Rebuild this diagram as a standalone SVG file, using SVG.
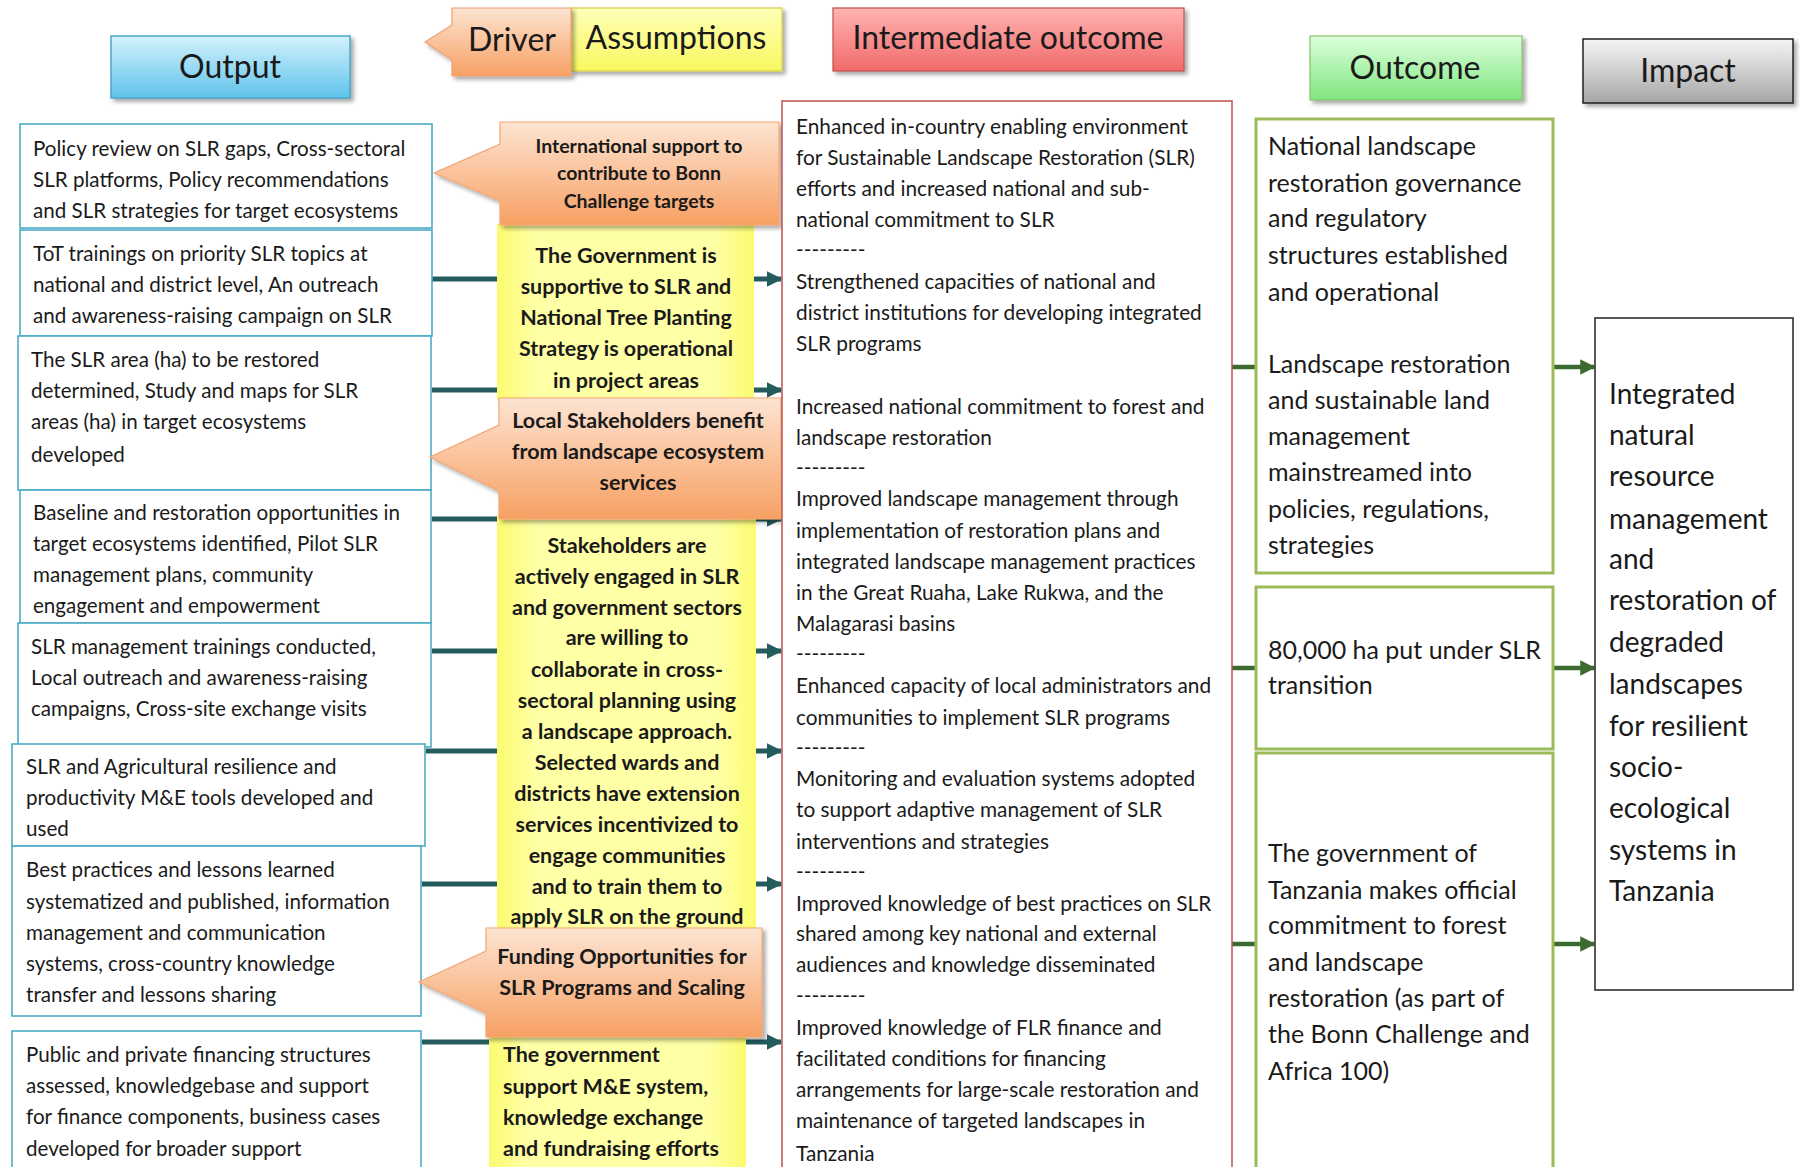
<svg xmlns="http://www.w3.org/2000/svg" width="1800" height="1167" viewBox="0 0 1800 1167">
<style>
.t{font-family:Lato,"Open Sans","Liberation Sans",sans-serif;fill:#1a1a1a}
.out{font-size:20.6px}
.io{font-size:20.8px}
.oc{font-size:25px}
.im{font-size:28px}
.hd{font-size:32px}
.b{font-weight:bold;text-anchor:middle;font-size:21.5px}
.bl{font-weight:bold;font-size:21.5px}
.obox{fill:#fff;stroke:#4bacc6;stroke-width:1.6}
.gbox{fill:#fff;stroke:#9bbb59;stroke-width:3}
.tl{stroke:#245c5e;stroke-width:5;fill:none}
.gl{stroke:#3c6b31;stroke-width:4.5;fill:none}
</style>
<defs>
<linearGradient id="gBlue" x1="0" y1="0" x2="0" y2="1"><stop offset="0" stop-color="#d4f2fc"/><stop offset="1" stop-color="#5fc3ec"/></linearGradient>
<linearGradient id="gOr" x1="0" y1="0" x2="0" y2="1"><stop offset="0" stop-color="#fde4d2"/><stop offset="1" stop-color="#f7a063"/></linearGradient>
<linearGradient id="gYel" x1="0" y1="0" x2="0" y2="1"><stop offset="0" stop-color="#ffffb8"/><stop offset="1" stop-color="#f8f860"/></linearGradient>
<linearGradient id="gRed" x1="0" y1="0" x2="0" y2="1"><stop offset="0" stop-color="#ffb3b3"/><stop offset="1" stop-color="#f26a6a"/></linearGradient>
<linearGradient id="gGrn" x1="0" y1="0" x2="0" y2="1"><stop offset="0" stop-color="#dcffdc"/><stop offset="1" stop-color="#80e680"/></linearGradient>
<linearGradient id="gGry" x1="0" y1="0" x2="0" y2="1"><stop offset="0" stop-color="#f5f5f5"/><stop offset="1" stop-color="#a6a6a6"/></linearGradient>
<linearGradient id="gYcol" x1="0" y1="0" x2="1" y2="0"><stop offset="0" stop-color="#fbfb70"/><stop offset="0.15" stop-color="#ffffa6"/><stop offset="0.85" stop-color="#ffffa6"/><stop offset="1" stop-color="#fbfb70"/></linearGradient>
<filter id="sh" x="-10%" y="-10%" width="130%" height="140%"><feDropShadow dx="3" dy="3" stdDeviation="2" flood-color="#000" flood-opacity="0.35"/></filter>
<marker id="aT" viewBox="0 0 10 10" refX="9" refY="5" markerWidth="3.2" markerHeight="3.2" orient="auto" markerUnits="strokeWidth"><path d="M0,0 L10,5 L0,10 z" fill="#245c5e"/></marker>
<marker id="aG" viewBox="0 0 10 10" refX="9" refY="5" markerWidth="3.4" markerHeight="3.4" orient="auto" markerUnits="strokeWidth"><path d="M0,0 L10,5 L0,10 z" fill="#3c6b31"/></marker>
</defs>
<rect width="1800" height="1167" fill="#fff"/>

<!-- headers -->
<g id="hdr-output"><rect x="111" y="36" width="239" height="62" fill="url(#gBlue)" stroke="#4aa6c8" stroke-width="1.5" filter="url(#sh)"/><text class="t hd" x="230" y="78" text-anchor="middle">Output</text></g>
<g id="hdr-assumptions"><rect x="571" y="8" width="211" height="63" fill="url(#gYel)" stroke="#d8d040" stroke-width="1.2" filter="url(#sh)"/><text class="t hd" x="676" y="49" text-anchor="middle">Assumptions</text></g>
<g id="hdr-driver"><path d="M452,8 H571 V76 H452 V60 L425,42 L452,25 Z" fill="url(#gOr)" stroke="#f0a070" stroke-width="1.2" filter="url(#sh)"/><text class="t hd" x="512" y="51" text-anchor="middle">Driver</text></g>
<g id="hdr-intermediate"><rect x="833" y="8" width="351" height="63" fill="url(#gRed)" stroke="#c0504d" stroke-width="1.2" filter="url(#sh)"/><text class="t hd" x="1008" y="49" text-anchor="middle">Intermediate outcome</text></g>
<g id="hdr-outcome"><rect x="1310" y="36" width="212" height="64" fill="url(#gGrn)" stroke="#8cc06a" stroke-width="1.2" filter="url(#sh)"/><text class="t hd" x="1415" y="79" text-anchor="middle">Outcome</text></g>
<g id="hdr-impact"><rect x="1583" y="39" width="210" height="64" fill="url(#gGry)" stroke="#222" stroke-width="1.5" filter="url(#sh)"/><text class="t hd" x="1688" y="82" text-anchor="middle">Impact</text></g>

<!-- connectors -->
<g id="connectors">
<line class="tl" x1="432" y1="279" x2="781" y2="279" marker-end="url(#aT)"/>
<line class="tl" x1="432" y1="390" x2="781" y2="390" marker-end="url(#aT)"/>
<line class="tl" x1="432" y1="519" x2="781" y2="519" marker-end="url(#aT)"/>
<line class="tl" x1="432" y1="651" x2="781" y2="651" marker-end="url(#aT)"/>
<line class="tl" x1="426" y1="751" x2="781" y2="751" marker-end="url(#aT)"/>
<line class="tl" x1="422" y1="884" x2="781" y2="884" marker-end="url(#aT)"/>
<line class="tl" x1="422" y1="1042" x2="781" y2="1042" marker-end="url(#aT)"/>
<line class="gl" x1="1232" y1="367" x2="1256" y2="367"/>
<line class="gl" x1="1232" y1="668" x2="1256" y2="668"/>
<line class="gl" x1="1232" y1="944" x2="1256" y2="944"/>
<line class="gl" x1="1554" y1="367" x2="1594" y2="367" marker-end="url(#aG)"/>
<line class="gl" x1="1554" y1="668" x2="1594" y2="668" marker-end="url(#aG)"/>
<line class="gl" x1="1554" y1="944" x2="1594" y2="944" marker-end="url(#aG)"/>
</g>

<!-- output boxes -->
<g id="out1"><rect class="obox" x="20" y="124" width="412" height="104"/>
<text class="t out" x="33" y="156">Policy review on SLR gaps, Cross-sectoral</text>
<text class="t out" x="33" y="187">SLR platforms,  Policy recommendations</text>
<text class="t out" x="33" y="218">and SLR strategies for target ecosystems</text></g>
<g id="out2"><rect class="obox" x="20" y="230" width="412" height="106"/>
<text class="t out" x="33" y="261">ToT trainings on priority SLR topics at</text>
<text class="t out" x="33" y="292">national and district level, An outreach</text>
<text class="t out" x="33" y="323">and awareness-raising campaign on SLR</text></g>
<g id="out3"><rect class="obox" x="18" y="336" width="413" height="154"/>
<text class="t out" x="31" y="367">The SLR area (ha) to be restored</text>
<text class="t out" x="31" y="398">determined,  Study and maps for SLR</text>
<text class="t out" x="31" y="429">areas  (ha) in target ecosystems</text>
<text class="t out" x="31" y="462">developed</text></g>
<g id="out4"><rect class="obox" x="20" y="490" width="411" height="133"/>
<text class="t out" x="33" y="520">Baseline and restoration opportunities  in</text>
<text class="t out" x="33" y="551">target ecosystems identified, Pilot SLR</text>
<text class="t out" x="33" y="582">management  plans, community</text>
<text class="t out" x="33" y="613">engagement and empowerment</text></g>
<g id="out5"><rect class="obox" x="18" y="623" width="413" height="124"/>
<text class="t out" x="31" y="654">SLR management  trainings conducted,</text>
<text class="t out" x="31" y="685">Local outreach  and awareness-raising</text>
<text class="t out" x="31" y="716">campaigns, Cross-site exchange visits</text></g>
<g id="out6"><rect class="obox" x="12" y="744" width="413" height="102"/>
<text class="t out" x="26" y="774">SLR and Agricultural resilience and</text>
<text class="t out" x="26" y="805">productivity  M&amp;E tools developed  and</text>
<text class="t out" x="26" y="836">used</text></g>
<g id="out7"><rect class="obox" x="12" y="846" width="409" height="170"/>
<text class="t out" x="26" y="877">Best practices and lessons learned</text>
<text class="t out" x="26" y="909">systematized and published, information</text>
<text class="t out" x="26" y="940">management  and communication</text>
<text class="t out" x="26" y="971">systems, cross-country knowledge</text>
<text class="t out" x="26" y="1002">transfer and lessons sharing</text></g>
<g id="out8"><rect class="obox" x="12" y="1031" width="409" height="150"/>
<text class="t out" x="26" y="1062">Public and private financing structures</text>
<text class="t out" x="26" y="1093">assessed, knowledgebase and support</text>
<text class="t out" x="26" y="1124">for finance components,  business cases</text>
<text class="t out" x="26" y="1156">developed  for broader support</text></g>

<!-- assumptions (yellow) -->
<g id="asm1"><rect x="497" y="224" width="257" height="176" fill="url(#gYcol)"/>
<text class="t b" x="626" y="263">The Government is</text>
<text class="t b" x="626" y="294">supportive to SLR and</text>
<text class="t b" x="626" y="325">National Tree Planting</text>
<text class="t b" x="626" y="356">Strategy is operational</text>
<text class="t b" x="626" y="388">in project areas</text></g>
<g id="asm2"><rect x="497" y="515" width="259" height="418" fill="url(#gYcol)"/>
<text class="t b" x="627" y="553">Stakeholders are</text>
<text class="t b" x="627" y="584">actively engaged in SLR</text>
<text class="t b" x="627" y="615">and government sectors</text>
<text class="t b" x="627" y="645">are willing to</text>
<text class="t b" x="627" y="677">collaborate in cross-</text>
<text class="t b" x="627" y="708">sectoral planning using</text>
<text class="t b" x="627" y="739">a landscape approach.</text>
<text class="t b" x="627" y="770">Selected wards and</text>
<text class="t b" x="627" y="801">districts have extension</text>
<text class="t b" x="627" y="832">services incentivized to</text>
<text class="t b" x="627" y="863">engage communities</text>
<text class="t b" x="627" y="894">and to train them to</text>
<text class="t b" x="627" y="924">apply SLR on the ground</text></g>
<g id="asm3"><rect x="489" y="1030" width="257" height="140" fill="url(#gYcol)"/>
<text class="t bl" x="503" y="1062">The government</text>
<text class="t bl" x="503" y="1094">support M&amp;E system,</text>
<text class="t bl" x="503" y="1125">knowledge exchange</text>
<text class="t bl" x="503" y="1156">and fundraising efforts</text></g>

<!-- drivers (orange callouts) -->
<g id="drv1"><path d="M500,122 H779 V225 H500 V201 L434,173 L500,144 Z" fill="url(#gOr)" stroke="#f3a673" stroke-width="1.2" filter="url(#sh)"/>
<text class="t b" x="639" y="153" style="font-size:19.5px">International support to</text>
<text class="t b" x="639" y="180" style="font-size:19.5px">contribute to Bonn</text>
<text class="t b" x="639" y="208" style="font-size:19.5px">Challenge targets</text></g>
<g id="drv2"><path d="M499,398 H781 V519 H499 V491 L430,457 L499,425 Z" fill="url(#gOr)" stroke="#f3a673" stroke-width="1.2" filter="url(#sh)"/>
<text class="t b" x="638" y="428">Local Stakeholders benefit</text>
<text class="t b" x="638" y="459">from landscape ecosystem</text>
<text class="t b" x="638" y="490">services</text></g>
<g id="drv3"><path d="M486,928 H762 V1037 H486 V1013 L419,982 L486,951 Z" fill="url(#gOr)" stroke="#f3a673" stroke-width="1.2" filter="url(#sh)"/>
<text class="t b" x="622" y="964">Funding Opportunities for</text>
<text class="t b" x="622" y="995">SLR Programs and Scaling</text></g>

<!-- intermediate outcome -->
<g id="intermediate"><rect x="782" y="101" width="450" height="1080" fill="#fff" stroke="#c0504d" stroke-width="1.5"/>
<text class="t io" x="796" y="134">Enhanced in-country  enabling environment</text>
<text class="t io" x="796" y="165">for Sustainable Landscape Restoration (SLR)</text>
<text class="t io" x="796" y="196">efforts and increased national and sub-</text>
<text class="t io" x="796" y="227">national commitment  to SLR</text>
<text class="t io" x="796" y="257">---------</text>
<text class="t io" x="796" y="289">Strengthened  capacities of national and</text>
<text class="t io" x="796" y="320">district institutions for developing integrated</text>
<text class="t io" x="796" y="351">SLR programs</text>
<text class="t io" x="796" y="414">Increased national commitment  to forest and</text>
<text class="t io" x="796" y="445">landscape restoration</text>
<text class="t io" x="796" y="475">---------</text>
<text class="t io" x="796" y="506">Improved  landscape management through</text>
<text class="t io" x="796" y="538">implementation  of restoration plans and</text>
<text class="t io" x="796" y="569">integrated landscape management  practices</text>
<text class="t io" x="796" y="600">in the Great Ruaha, Lake Rukwa, and the</text>
<text class="t io" x="796" y="631">Malagarasi basins</text>
<text class="t io" x="796" y="661">---------</text>
<text class="t io" x="796" y="693">Enhanced capacity of local administrators and</text>
<text class="t io" x="796" y="725">communities  to implement SLR programs</text>
<text class="t io" x="796" y="755">---------</text>
<text class="t io" x="796" y="786">Monitoring  and evaluation systems adopted</text>
<text class="t io" x="796" y="817">to support  adaptive management of SLR</text>
<text class="t io" x="796" y="849">interventions  and strategies</text>
<text class="t io" x="796" y="879">---------</text>
<text class="t io" x="796" y="911">Improved knowledge of best practices on SLR</text>
<text class="t io" x="796" y="941">shared among key national and external</text>
<text class="t io" x="796" y="972">audiences and knowledge disseminated</text>
<text class="t io" x="796" y="1003">---------</text>
<text class="t io" x="796" y="1035">Improved  knowledge of FLR finance and</text>
<text class="t io" x="796" y="1066">facilitated conditions for financing</text>
<text class="t io" x="796" y="1097">arrangements for large-scale restoration and</text>
<text class="t io" x="796" y="1128">maintenance of targeted landscapes in</text>
<text class="t io" x="796" y="1161">Tanzania</text></g>

<!-- outcomes -->
<g id="outcome1"><rect class="gbox" x="1256" y="119" width="297" height="454"/>
<text class="t oc" x="1268" y="155">National landscape</text>
<text class="t oc" x="1268" y="192">restoration governance</text>
<text class="t oc" x="1268" y="227">and regulatory</text>
<text class="t oc" x="1268" y="264">structures established</text>
<text class="t oc" x="1268" y="301">and operational</text>
<text class="t oc" x="1268" y="373">Landscape restoration</text>
<text class="t oc" x="1268" y="409">and sustainable land</text>
<text class="t oc" x="1268" y="445">management</text>
<text class="t oc" x="1268" y="481">mainstreamed into</text>
<text class="t oc" x="1268" y="518">policies, regulations,</text>
<text class="t oc" x="1268" y="554">strategies</text></g>
<g id="outcome2"><rect class="gbox" x="1256" y="587" width="297" height="162"/>
<text class="t oc" x="1268" y="659">80,000 ha put under SLR</text>
<text class="t oc" x="1268" y="694">transition</text></g>
<g id="outcome3"><rect class="gbox" x="1256" y="753" width="297" height="430"/>
<text class="t oc" x="1268" y="862">The government of</text>
<text class="t oc" x="1268" y="899">Tanzania makes official</text>
<text class="t oc" x="1268" y="934">commitment to forest</text>
<text class="t oc" x="1268" y="971">and landscape</text>
<text class="t oc" x="1268" y="1007">restoration (as part of</text>
<text class="t oc" x="1268" y="1043">the Bonn Challenge and</text>
<text class="t oc" x="1268" y="1080">Africa 100)</text></g>

<!-- impact -->
<g id="impact"><rect x="1595" y="318" width="198" height="672" fill="#fff" stroke="#222" stroke-width="1.5"/>
<text class="t im" x="1609" y="404">Integrated</text>
<text class="t im" x="1609" y="445">natural</text>
<text class="t im" x="1609" y="486">resource</text>
<text class="t im" x="1609" y="529">management</text>
<text class="t im" x="1609" y="569">and</text>
<text class="t im" x="1609" y="610">restoration  of</text>
<text class="t im" x="1609" y="652">degraded</text>
<text class="t im" x="1609" y="694">landscapes</text>
<text class="t im" x="1609" y="736">for resilient</text>
<text class="t im" x="1609" y="777">socio-</text>
<text class="t im" x="1609" y="818">ecological</text>
<text class="t im" x="1609" y="860">systems in</text>
<text class="t im" x="1609" y="901">Tanzania</text></g>
</svg>
